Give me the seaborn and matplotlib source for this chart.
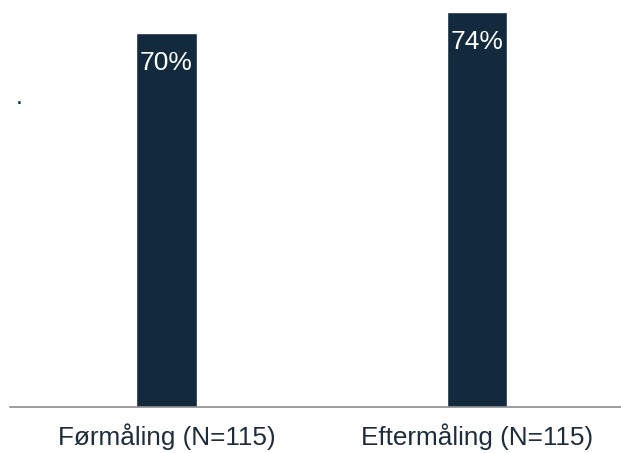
import numpy as np
import pandas as pd
import matplotlib.pyplot as plt
import seaborn as sns

categories = ["Førmåling (N=115)", "Eftermåling (N=115)"]
values = [70, 74]
value_labels = ["70%", "74%"]

navy = "#132a3e"

sns.set_theme(style="white")
plt.rcParams['font.family'] = ['Liberation Sans', 'DejaVu Sans']

df = pd.DataFrame({"Måling": categories, "Andel": values})

fig = plt.figure(figsize=(6.21, 4.53), dpi=100)
ax = fig.add_axes([10 / 621, 46 / 453, 611 / 621, 407 / 453])

sns.barplot(data=df, x="Måling", y="Andel", color=navy, saturation=1,
            width=0.196, ax=ax)

for i, (v, lab) in enumerate(zip(values, value_labels)):
    ax.text(i, v - 6.9, lab, ha="center", va="baseline", color="white", fontsize=19)

ax.set_xlim(-0.504, 1.464)
ax.set_ylim(0, 76.2)
ax.set_xlabel("")
ax.set_ylabel("")
ax.set_yticks([])
ax.tick_params(axis="x", length=0, pad=12, labelsize=18.8, labelcolor="#1d2d3d")
for side in ["top", "right", "left"]:
    ax.spines[side].set_visible(False)
ax.spines["bottom"].set_color("#8c8c8c")
ax.spines["bottom"].set_linewidth(1.2)

fig.text(19 / 621, 1 - 104 / 453, ".", color=navy, fontsize=18, ha="center", va="baseline")

fig.savefig("out.png", dpi=100)
